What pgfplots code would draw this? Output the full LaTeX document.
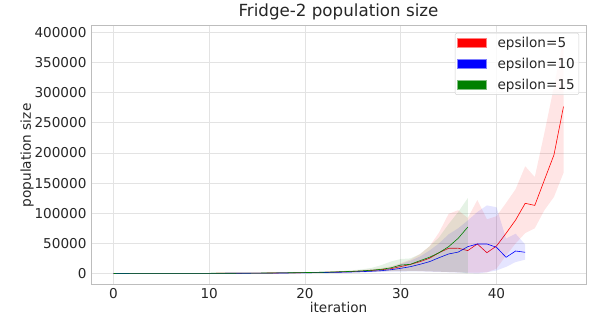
\documentclass[border=0pt]{standalone}
\usepackage{fontspec}
\setmainfont{DejaVu Sans}
\usepackage{pgfplots}
\pgfplotsset{compat=1.18}

\definecolor{gridc}{HTML}{E3E3E3}
\definecolor{spinec}{HTML}{BDBDBD}
\definecolor{mplgreen}{HTML}{008000}

\begin{document}
\begin{tikzpicture}
\path[use as bounding box] (0,0) rectangle (591pt,320pt);
\begin{axis}[
  at={(91pt,35pt)}, anchor=south west,
  scale only axis, width=495pt, height=259pt,
  xmin=-2.35, xmax=49.35, ymin=-19100, ymax=410800,
  xtick={0,10,20,30,40},
  ytick={0,50000,100000,150000,200000,250000,300000,350000,400000},
  scaled y ticks=false,
  yticklabel style={/pgf/number format/fixed, /pgf/number format/1000 sep={}, /pgf/number format/assume math mode=true, xshift=-1pt},
  xticklabel style={/pgf/number format/assume math mode=true, anchor=base, yshift=-13.3pt},
  grid=major,
  major grid style={draw=gridc, line width=0.8pt},
  major tick length=0pt,
  axis line style={draw=spinec, line width=1pt},
  tick label style={font=\fontsize{13.6}{16}\selectfont, text=black!85},
  xlabel={iteration},
  ylabel={population size},
  every axis x label/.style={at={(axis description cs:0.5,0)}, anchor=base, yshift=-27.7pt, font=\fontsize{13.6}{16}\selectfont, text=black!85},
  every axis y label/.style={at={(axis description cs:-0.129,0.5)}, anchor=center, rotate=90, font=\fontsize{13.7}{16}\selectfont, text=black!85},
  title={Fridge-2 population size},
  title style={font=\fontsize{16.7}{19}\selectfont, text=black!85, at={(axis description cs:0.5,1)}, anchor=base, yshift=3.3pt},
  legend style={at={(1,1)}, anchor=north east, xshift=-7pt, yshift=-7pt,
    draw=black!18, rounded corners=2pt, fill=white, fill opacity=0.8, text opacity=1,
    font=\fontsize{13.6}{16}\selectfont, text=black!85,
    inner xsep=2pt, inner ysep=2pt, row sep=5pt},
  legend cell align=left,
  legend columns=1,
  legend style={/tikz/every odd column/.append style={column sep=9pt}},
  legend image code/.code={\draw[#1, sharp corners] (0pt,-4.5pt) rectangle (29pt,4.5pt);},
]
% epsilon = 5 band (upper bound forward, lower bound backward)
\addplot[fill=red, fill opacity=0.1, draw=none, forget plot] coordinates {
(0,80)(1,95)(2,110)(3,130)(4,150)(5,180)(6,210)(7,245)(8,285)(9,335)(10,390)(11,460)(12,540)(13,630)(14,740)(15,870)(16,1020)(17,1200)(18,1420)(19,1680)(20,1980)(21,2350)(22,2800)(23,3350)(24,4000)(25,4800)(26,5900)(27,7300)(28,9200)(29,12000)(30,17000)(31,23000)(32,32000)(33,45000)(34,68000)(35,99000)(36,105000)(37,92000)(38,122000)(39,90000)(40,95000)(41,117000)(42,140000)(43,178000)(44,160000)(45,233000)(46,310000)(47,391000)
(47,167000)(46,127000)(45,105000)(44,75000)(43,67000)(42,50000)(41,30000)(40,8000)(39,2000)(38,1500)(37,1500)(36,2000)(35,2500)(34,3000)(33,3500)(32,4000)(31,4500)(30,4500)(29,4000)(28,3400)(27,2800)(26,2300)(25,1950)(24,1650)(23,1400)(22,1200)(21,1020)(20,870)(19,740)(18,630)(17,540)(16,460)(15,390)(14,330)(13,280)(12,240)(11,205)(10,175)(9,150)(8,130)(7,110)(6,95)(5,80)(4,70)(3,60)(2,50)(1,45)(0,40)
} -- cycle;
\addplot[red, line width=0.6pt, forget plot] table {
x y
0 60
1 70
2 80
3 95
4 110
5 130
6 150
7 175
8 205
9 240
10 280
11 330
12 385
13 450
14 530
15 620
16 730
17 860
18 1010
19 1190
20 1400
21 1650
22 1950
23 2300
24 2750
25 3300
26 4000
27 5000
28 6300
29 8000
30 11500
31 15000
32 19600
33 25200
34 34500
35 41800
36 42000
37 38000
38 49000
39 34500
40 45600
41 66700
42 88800
43 116500
44 113000
45 155000
46 196700
47 277000
};
% epsilon = 10 band
\addplot[fill=blue, fill opacity=0.1, draw=none, forget plot] coordinates {
(0,75)(1,85)(2,98)(3,115)(4,135)(5,158)(6,185)(7,215)(8,250)(9,292)(10,342)(11,400)(12,468)(13,548)(14,642)(15,750)(16,878)(17,1028)(18,1203)(19,1408)(20,1648)(21,1928)(22,2255)(23,2640)(24,3100)(25,3650)(26,4350)(27,5300)(28,6600)(29,9500)(30,16000)(31,21000)(32,28000)(33,38000)(34,50000)(35,65000)(36,75000)(37,88000)(38,102000)(39,113000)(40,110000)(41,58000)(42,66000)(43,48000)
(43,23000)(42,19000)(41,11000)(40,5000)(39,2000)(38,0)(37,1000)(36,1500)(35,2000)(34,2500)(33,3000)(32,3500)(31,3500)(30,3000)(29,3200)(28,2800)(27,2300)(26,1900)(25,1600)(24,1360)(23,1165)(22,995)(21,852)(20,728)(19,622)(18,532)(17,455)(16,388)(15,332)(14,284)(13,243)(12,208)(11,178)(10,152)(9,130)(8,112)(7,95)(6,82)(5,70)(4,60)(3,52)(2,45)(1,40)(0,35)
} -- cycle;
\addplot[blue, line width=0.6pt, forget plot] table {
x y
0 55
1 62
2 70
3 82
4 96
5 112
6 130
7 152
8 178
9 208
10 243
11 285
12 333
13 390
14 456
15 533
16 624
17 730
18 855
19 1000
20 1170
21 1370
22 1600
23 1880
24 2200
25 2600
26 3100
27 3800
28 4700
29 6300
30 8600
31 11300
32 15200
33 19600
34 26200
35 32400
36 35500
37 44500
38 49000
39 49000
40 43500
41 26900
42 37300
43 35200
};
% epsilon = 15 band
\addplot[fill=mplgreen, fill opacity=0.1, draw=none, forget plot] coordinates {
(0,88)(1,105)(2,121)(3,143)(4,165)(5,198)(6,231)(7,270)(8,314)(9,369)(10,429)(11,506)(12,594)(13,693)(14,814)(15,957)(16,1122)(17,1320)(18,1562)(19,1848)(20,2178)(21,2585)(22,3080)(23,3685)(24,4400)(25,5400)(26,7000)(27,9500)(28,14000)(29,20000)(30,24000)(31,25000)(32,32000)(33,45000)(34,60000)(35,82000)(36,102000)(37,125000)
(37,0)(36,2000)(35,2500)(34,3000)(33,3500)(32,4000)(31,4000)(30,4000)(29,4000)(28,3500)(27,3000)(26,2530)(25,2145)(24,1815)(23,1540)(22,1320)(21,1122)(20,957)(19,814)(18,693)(17,594)(16,506)(15,429)(14,363)(13,308)(12,264)(11,226)(10,193)(9,165)(8,143)(7,121)(6,105)(5,88)(4,77)(3,66)(2,55)(1,50)(0,44)
} -- cycle;
\addplot[mplgreen, line width=0.6pt, forget plot] table {
x y
0 65
1 77
2 88
3 105
4 121
5 143
6 165
7 193
8 226
9 264
10 308
11 363
12 424
13 495
14 583
15 682
16 803
17 946
18 1111
19 1309
20 1540
21 1815
22 2145
23 2530
24 3025
25 3630
26 4400
27 5500
28 7000
29 9500
30 14000
31 15200
32 21200
33 26900
34 34500
35 44500
36 58400
37 77000
};
% legend
\addlegendimage{fill=red, draw=red!50, fill opacity=1}
\addlegendentry{epsilon=5}
\addlegendimage{fill=blue, draw=blue!50, fill opacity=1}
\addlegendentry{epsilon=10}
\addlegendimage{fill=mplgreen, draw=mplgreen!50, fill opacity=1}
\addlegendentry{epsilon=15}
\end{axis}
\end{tikzpicture}
\end{document}
